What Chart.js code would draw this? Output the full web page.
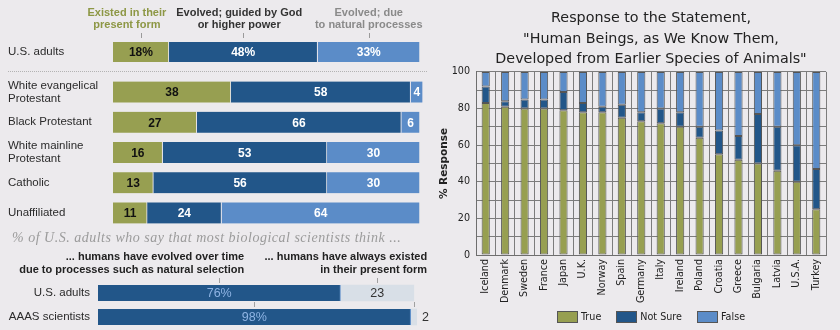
<!DOCTYPE html>
<html>
<head>
<meta charset="utf-8">
<title>Views on human evolution</title>
<script src="https://cdn.jsdelivr.net/npm/chart.js@4.4.1/dist/chart.umd.min.js"></script>
<style>
  html, body { margin: 0; padding: 0; background: #eceaed; width: 840px; height: 330px; overflow: hidden; position: relative; }
  canvas { position: absolute; }
  #rule { position: absolute; left: 8px; top: 71px; width: 419px; border-top: 1px dotted #b3b3b3; }
  #countryKey { position: absolute; top: 311px; display: flex; justify-content: center; gap: 15px;
                font: 9.6px 'DejaVu Sans', sans-serif; color: #222; line-height: 12px; }
  #countryKey .key { display: flex; align-items: center; }
  #countryKey .key i { display: inline-block; width: 19px; height: 10px; border: 1px solid #555; margin-right: 3px; }
</style>
</head>
<body>
<canvas id="usChart" width="430" height="68" style="left:0;top:0"></canvas>
<div id="rule"></div>
<canvas id="faithChart" width="430" height="155" style="left:0;top:75px"></canvas>
<canvas id="sciChart" width="430" height="104" style="left:0;top:226px"></canvas>
<canvas id="countryChart" width="408" height="330" style="left:432px;top:0"></canvas>
<div id="countryKey"></div>
<script>
// --- survey: how humans came to be (percent) ---
const viewHeads = [
    ['Existed in their', 'present form'],
    ['Evolved; guided by God', 'or higher power'],
    ['Evolved; due', 'to natural processes']
];
const usAdults = [18, 48, 33];

const faithGroups = [
    ['White evangelical', 'Protestant'],
    'Black Protestant',
    ['White mainline', 'Protestant'],
    'Catholic',
    'Unaffiliated'
];
const existedForm = [38, 27, 16, 13, 11];
const guidedByGod = [58, 66, 53, 56, 24];
const naturalProcesses = [4, 6, 30, 30, 64];

// --- what people think scientists believe ---
const sciCaption = '% of U.S. adults who say that most biological scientists think ...';
const sciHeads = [
    ['... humans have evolved over time', 'due to processes such as natural selection'],
    ['... humans have always existed', 'in their present form']
];
const sciGroups = ['U.S. adults', 'AAAS scientists'];
const evolvedOverTime = [76, 98];
const alwaysExisted = [23, 2];

// --- international comparison ---
const countryTitle = [
    'Response to the Statement,',
    '"Human Beings, as We Know Them,',
    'Developed from Earlier Species of Animals"'
];
const countries = ['Iceland', 'Denmark', 'Sweden', 'France', 'Japan', 'U.K.', 'Norway', 'Spain', 'Germany',
    'Italy', 'Ireland', 'Poland', 'Croatia', 'Greece', 'Bulgaria', 'Latvia', 'U.S.A.', 'Turkey'];
const trueShare = [83, 81, 80, 80, 79, 78, 78, 75, 73, 72, 70, 64, 55, 52, 50, 46, 40, 25];
const notSureShare = [9, 3, 5, 5, 10, 5, 3, 7, 5, 8, 8, 6, 13, 13, 27, 24, 20, 22];
const falseShare = [8, 16, 15, 15, 11, 17, 19, 18, 22, 20, 22, 30, 32, 35, 23, 30, 40, 53];
const responseTicks = [0, 20, 40, 60, 80, 100];

const OLIVE = '#979f51';
const NAVY = '#225689';
const SKY = '#5b8cc8';
const MIST = '#d8dfe7';

const SANS = "'Liberation Sans', Arial, sans-serif";
const DEJAVU = "'DejaVu Sans', sans-serif";

Chart.defaults.font.family = SANS;
Chart.defaults.color = '#333';

// writes each segment's value inside it, or just past the end when it doesn't fit
const segmentLabels = {
    id: 'segmentLabels',
    afterDatasetsDraw(chart, args, opts) {
        const ctx = chart.ctx;
        ctx.save();
        ctx.font = opts.font;
        ctx.textBaseline = 'middle';
        chart.data.datasets.forEach((ds, i) => {
            chart.getDatasetMeta(i).data.forEach((bar, j) => {
                const text = ds.data[j] + (opts.suffix[i] || '');
                const left = Math.min(bar.x, bar.base);
                const right = Math.max(bar.x, bar.base);
                const w = ctx.measureText(text).width;
                if (right - left < w + 4) {
                    ctx.fillStyle = opts.outsideColor;
                    ctx.textAlign = 'left';
                    ctx.fillText(text, right + 5, bar.y + 1);
                } else {
                    ctx.fillStyle = opts.colors[i];
                    ctx.textAlign = 'center';
                    ctx.fillText(text, (left + right) / 2, bar.y + 1);
                }
            });
        });
        ctx.restore();
    }
};

// column headings over the first row, with small pointer ticks above the segments
const columnHeads = {
    id: 'columnHeads',
    afterDraw(chart, args, opts) {
        const ctx = chart.ctx;
        ctx.save();
        if (opts.caption) {
            ctx.font = opts.caption.font;
            ctx.fillStyle = opts.caption.color;
            ctx.letterSpacing = opts.caption.spacing;
            ctx.textAlign = 'left';
            ctx.textBaseline = 'middle';
            ctx.fillText(opts.caption.text, opts.caption.x, opts.caption.y);
            ctx.letterSpacing = '0px';
        }
        chart.data.datasets.forEach((ds, i) => {
            const meta = chart.getDatasetMeta(i);
            opts.tickRows.forEach(r => {
                const bar = meta.data[r];
                const cx = Math.round((bar.x + bar.base) / 2) + 0.5;
                const top = bar.y - bar.height / 2;
                ctx.strokeStyle = opts.tickColor;
                ctx.lineWidth = 1;
                ctx.beginPath();
                ctx.moveTo(cx, top - opts.tickGap - opts.tickLen);
                ctx.lineTo(cx, top - opts.tickGap);
                ctx.stroke();
            });
            const head = opts.heads[i];
            if (!head) return;
            const bar = meta.data[0];
            const cx = (bar.x + bar.base) / 2 + head.dx;
            ctx.font = opts.font;
            ctx.fillStyle = head.color;
            ctx.textAlign = head.align;
            ctx.textBaseline = 'middle';
            head.lines.forEach((line, k) => ctx.fillText(line, cx, opts.lineY[k]));
        });
        ctx.restore();
    }
};

// legend built as html under the country chart
const htmlLegend = {
    id: 'htmlLegend',
    afterUpdate(chart, args, opts) {
        const box = document.getElementById(opts.containerID);
        const area = chart.chartArea;
        box.innerHTML = '';
        box.style.left = (chart.canvas.offsetLeft + area.left) + 'px';
        box.style.width = (area.right - area.left) + 'px';
        chart.options.plugins.legend.labels.generateLabels(chart).forEach(item => {
            const key = document.createElement('span');
            key.className = 'key';
            const swatch = document.createElement('i');
            swatch.style.background = item.fillStyle;
            swatch.style.borderColor = item.strokeStyle;
            key.appendChild(swatch);
            key.appendChild(document.createTextNode(item.text));
            box.appendChild(key);
        });
    }
};

// row labels sit inside the row band, so the axis needs no extra room above/below
function rowAxisFit(width) {
    return function (scale) {
        scale.width = width;
        scale.paddingTop = 0;
        scale.paddingBottom = 0;
    };
}

function viewDatasets(series) {
    return series.map((values, i) => ({
        label: viewHeads[i].join(' '),
        data: values,
        backgroundColor: [OLIVE, NAVY, SKY][i],
        borderColor: '#e6e5ea',
        borderWidth: { right: 1, left: 0, top: 0, bottom: 0 },
        borderSkipped: false
    }));
}

function viewOptions(padTop, padBottom, thickness, extra) {
    return {
        indexAxis: 'y',
        responsive: false,
        animation: false,
        layout: { padding: { left: 8, right: 7, top: padTop, bottom: padBottom } },
        datasets: { bar: { barThickness: thickness } },
        scales: {
            x: { stacked: true, display: false, min: 0, max: 100 },
            y: {
                stacked: true,
                grid: { display: false, drawTicks: false },
                border: { display: false },
                ticks: {
                    crossAlign: 'far',
                    color: '#2b2b2b',
                    font: { family: SANS, size: 11.5, lineHeight: 1.1 }
                },
                afterFit: rowAxisFit(105)
            }
        },
        plugins: Object.assign({
            legend: { display: false },
            tooltip: { enabled: false },
            segmentLabels: {
                font: 'bold 12px ' + SANS,
                colors: ['#111', '#fff', '#fff'],
                outsideColor: '#333',
                suffix: extra.suffix
            }
        }, extra.plugins || {})
    };
}

new Chart(document.getElementById('usChart'), {
    type: 'bar',
    data: { labels: ['U.S. adults'], datasets: viewDatasets([[usAdults[0]], [usAdults[1]], [usAdults[2]]]) },
    options: viewOptions(37, 1, 20, {
        suffix: ['%', '%', '%'],
        plugins: {
            columnHeads: {
                font: 'bold 11px ' + SANS,
                lineY: [13, 25],
                tickRows: [0],
                tickGap: 4,
                tickLen: 5,
                tickColor: '#9a9a9a',
                heads: [
                    { lines: viewHeads[0], color: '#8d9745', align: 'center', dx: -14 },
                    { lines: viewHeads[1], color: '#333', align: 'center', dx: -4 },
                    { lines: viewHeads[2], color: '#8a8a8a', align: 'center', dx: 0 }
                ]
            }
        }
    }),
    plugins: [segmentLabels, columnHeads]
});

new Chart(document.getElementById('faithChart'), {
    type: 'bar',
    data: { labels: faithGroups, datasets: viewDatasets([existedForm, guidedByGod, naturalProcesses]) },
    options: viewOptions(2, 2, 21, { suffix: ['', '', ''] }),
    plugins: [segmentLabels]
});

new Chart(document.getElementById('sciChart'), {
    type: 'bar',
    data: {
        labels: sciGroups,
        datasets: [
            { label: sciHeads[0].join(' '), data: evolvedOverTime, backgroundColor: NAVY, borderColor: SKY, borderWidth: { right: 1, left: 0, top: 0, bottom: 0 }, borderSkipped: false },
            { label: sciHeads[1].join(' '), data: alwaysExisted, backgroundColor: MIST, borderWidth: 0 }
        ]
    },
    options: {
        indexAxis: 'y',
        responsive: false,
        animation: false,
        layout: { padding: { left: 0, right: 13, top: 55, bottom: 1 } },
        datasets: { bar: { barThickness: 16 } },
        scales: {
            x: { stacked: true, display: false, min: 0, max: 100 },
            y: {
                stacked: true,
                grid: { display: false, drawTicks: false },
                border: { display: false },
                ticks: { padding: 8, color: '#2b2b2b', font: { family: SANS, size: 11.5 } },
                afterFit: rowAxisFit(98)
            }
        },
        plugins: {
            legend: { display: false },
            tooltip: { enabled: false },
            segmentLabels: {
                font: '12.5px ' + SANS,
                colors: ['#8fb4e4', '#333'],
                outsideColor: '#333',
                suffix: ['%', '']
            },
            columnHeads: {
                caption: { text: sciCaption, x: 12, y: 12, font: 'italic 14px "Liberation Serif", Georgia, serif', color: '#9b9b9b', spacing: '0.5px' },
                font: 'bold 11px ' + SANS,
                lineY: [31, 44],
                tickRows: [0, 1],
                tickGap: 2,
                tickLen: 5,
                tickColor: '#a0a0a0',
                heads: [
                    { lines: sciHeads[0], color: '#222', align: 'right', dx: 25 },
                    { lines: sciHeads[1], color: '#222', align: 'right', dx: 50 }
                ]
            }
        }
    },
    plugins: [segmentLabels, columnHeads]
});

const gridStyle = { color: '#7c7c7c', drawTicks: false };
const axisFont = { family: DEJAVU, size: 9.6 };

new Chart(document.getElementById('countryChart'), {
    type: 'bar',
    data: {
        labels: countries,
        datasets: [
            { label: 'True', data: trueShare, backgroundColor: OLIVE },
            { label: 'Not Sure', data: notSureShare, backgroundColor: NAVY },
            { label: 'False', data: falseShare, backgroundColor: SKY }
        ]
    },
    options: {
        responsive: false,
        animation: false,
        layout: { padding: { left: 0, right: 14, top: 0, bottom: 23 } },
        datasets: {
            bar: { barPercentage: 0.42, categoryPercentage: 1, borderColor: '#555', borderWidth: 1, borderSkipped: false }
        },
        scales: {
            x: {
                stacked: true,
                grid: Object.assign({ offset: true }, gridStyle),
                border: { color: '#6e6e6e' },
                ticks: { minRotation: 90, maxRotation: 90, autoSkip: false, padding: 4, color: '#222', font: axisFont },
                afterFit(scale) { scale.height = 52; }
            },
            y: {
                stacked: true,
                min: 0,
                max: 100,
                grid: gridStyle,
                border: { color: '#6e6e6e' },
                ticks: {
                    stepSize: 10,
                    padding: 6,
                    color: '#222',
                    font: axisFont,
                    callback: v => responseTicks.includes(v) ? v : ''
                },
                title: {
                    display: true,
                    text: '% Response',
                    color: '#222',
                    font: { family: DEJAVU, size: 10.5, weight: 'bold' },
                    padding: { top: 6, bottom: 0 }
                },
                afterFit(scale) { scale.width = 44; }
            }
        },
        plugins: {
            title: {
                display: true,
                fullSize: false,
                text: countryTitle,
                color: '#222',
                font: { family: DEJAVU, size: 14.3, weight: 'normal', lineHeight: 1.42 },
                padding: { top: 8.5, bottom: 2.5 }
            },
            legend: { display: false },
            htmlLegend: { containerID: 'countryKey' },
            tooltip: { enabled: false }
        }
    },
    plugins: [htmlLegend]
});
</script>
</body>
</html>
